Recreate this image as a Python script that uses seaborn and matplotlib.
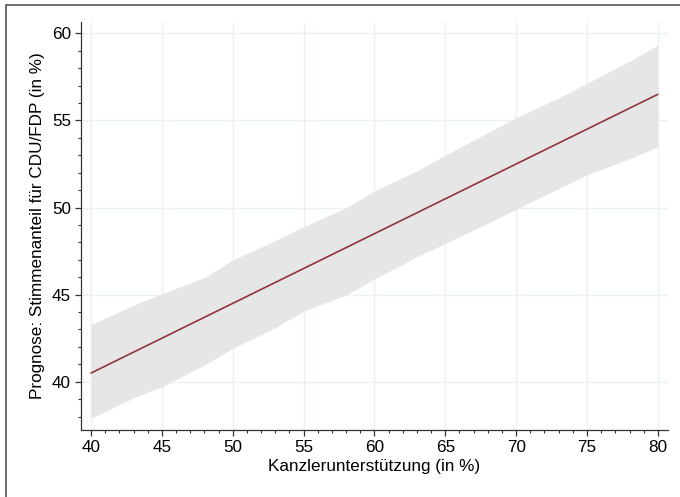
import numpy as np
import pandas as pd
import matplotlib
matplotlib.use("Agg")
import matplotlib.pyplot as plt
from matplotlib.patches import Rectangle
from matplotlib.ticker import MultipleLocator
import seaborn as sns

# Prognose-Linie (linear) und Konfidenzband
line_x = [40, 80]
line_y = [40.5, 56.5]

band_x = [40, 41, 43, 45, 48, 50, 53, 55, 58, 60, 63, 65, 68, 70, 73, 75, 78, 80]
band_upper = [43.26, 43.65, 44.4, 45.05, 45.98, 46.99, 48.1, 48.9, 49.99, 50.95,
              52.11, 53.01, 54.3, 55.15, 56.3, 57.13, 58.4, 59.33]
band_lower = [37.9, 38.3, 39.08, 39.71, 40.96, 41.92, 43.1, 44.06, 44.98, 45.9,
              47.18, 47.94, 49.1, 49.9, 51.1, 51.87, 52.8, 53.49]

sns.set_style("white")
plt.rcParams['font.family'] = ['Liberation Sans', 'DejaVu Sans']
plt.rcParams['text.color'] = 'black'
plt.rcParams['axes.labelcolor'] = 'black'
plt.rcParams['xtick.color'] = 'black'
plt.rcParams['ytick.color'] = 'black'

fs = 12.3

fig = plt.figure(figsize=(6.8, 4.97), dpi=100)
ax = fig.add_axes([0.1187, 0.1348, 0.9820 - 0.1187, 0.9557 - 0.1348])

# Rahmen um die Grafik
fig.patches.append(Rectangle((5.5 / 680, -0.1), 1.2, 1.1 - 5 / 497,
                             transform=fig.transFigure, fill=False,
                             edgecolor="#555555", linewidth=1.2))

ax.fill_between(band_x, band_lower, band_upper, color="#e6e6e6", linewidth=0, zorder=2)
df = pd.DataFrame({"x": line_x, "y": line_y})
sns.lineplot(data=df, x="x", y="y", ax=ax, color="#90353b", linewidth=1.2, zorder=3)

ax.set_xlim(39.27, 80.7)
ax.set_ylim(37.23, 60.65)
ax.xaxis.set_major_locator(MultipleLocator(5))
ax.xaxis.set_minor_locator(MultipleLocator(1))
ax.yaxis.set_major_locator(MultipleLocator(5))
ax.yaxis.set_minor_locator(MultipleLocator(1))

ax.grid(True, which="major", color="#eaf2f3", linewidth=1.0, zorder=0)
ax.set_axisbelow(True)

for s in ["top", "right"]:
    ax.spines[s].set_visible(False)
for s in ["left", "bottom"]:
    ax.spines[s].set_color("#333333")
    ax.spines[s].set_linewidth(0.9)

ax.tick_params(which="major", direction="out", length=4, width=0.9, color="#333333",
               labelsize=fs, labelcolor="black", pad=3, left=True, bottom=True)
ax.tick_params(which="minor", direction="out", length=2.2, width=0.8, color="#333333",
               left=True, bottom=True)

ax.set_xlabel("Kanzlerunterstützung (in %)", fontsize=fs, labelpad=3)
ax.set_ylabel("Prognose: Stimmenanteil für CDU/FDP (in %)", fontsize=fs, labelpad=5)

fig.savefig("out.png", dpi=100)
